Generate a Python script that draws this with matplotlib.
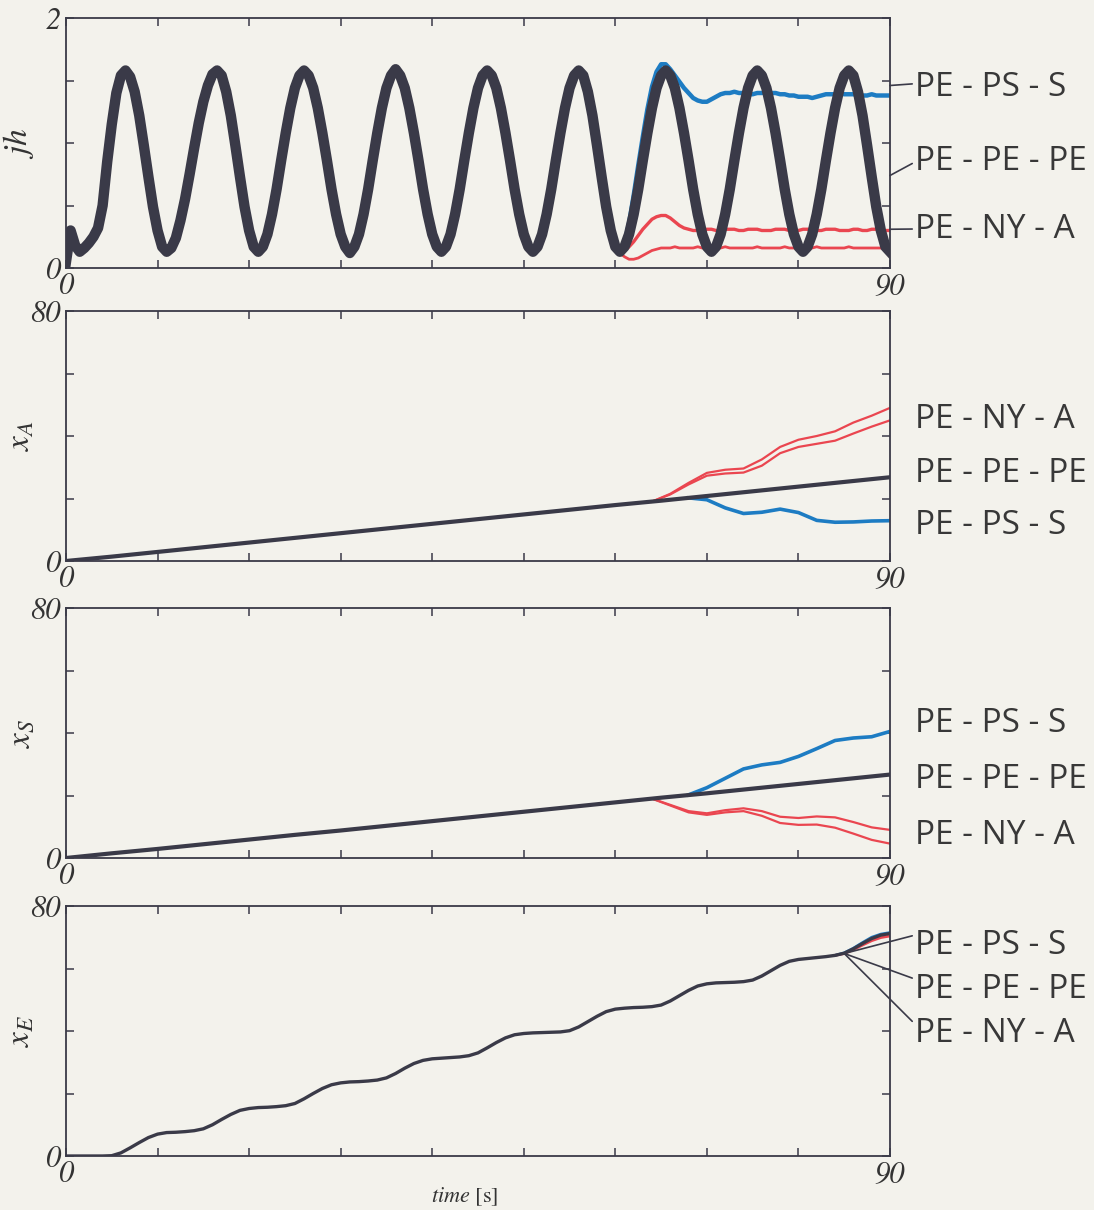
import numpy as np
import matplotlib.pyplot as plt

plt.rcParams['mathtext.fontset'] = 'stix'
plt.rcParams['font.family'] = 'STIXGeneral'

PAPER = '#f3f2ec'
INK = '#3a3a48'
BLUE = '#1d7cc3'
RED = '#ea4650'
TEXT = '#383838'

labels = ['PE - PS - S', 'PE - PE - PE', 'PE - NY - A']

# ---- panel 1: jh, read every 0.5 s ----
t_jh = np.arange(0, 90.5, 0.5)
jh_pe = [
    0.05, 0.30, 0.18, 0.13, 0.16, 0.20, 0.25, 0.32, 0.50, 0.85,
    1.15, 1.40, 1.54, 1.58, 1.53, 1.41, 1.22, 0.98, 0.73, 0.49,
    0.30, 0.17, 0.13, 0.16, 0.24, 0.38, 0.55, 0.75, 0.96, 1.16,
    1.33, 1.46, 1.55, 1.58, 1.54, 1.41, 1.22, 0.98, 0.73, 0.49,
    0.30, 0.17, 0.13, 0.17, 0.27, 0.43, 0.63, 0.86, 1.08, 1.28,
    1.44, 1.54, 1.58, 1.54, 1.44, 1.28, 1.08, 0.86, 0.63, 0.43,
    0.27, 0.17, 0.12, 0.17, 0.27, 0.43, 0.63, 0.86, 1.08, 1.28,
    1.44, 1.54, 1.59, 1.54, 1.44, 1.28, 1.08, 0.86, 0.63, 0.43,
    0.27, 0.17, 0.13, 0.17, 0.27, 0.43, 0.63, 0.86, 1.08, 1.28,
    1.44, 1.54, 1.58, 1.54, 1.44, 1.28, 1.08, 0.86, 0.63, 0.43,
    0.27, 0.17, 0.13, 0.17, 0.27, 0.43, 0.63, 0.86, 1.08, 1.28,
    1.44, 1.54, 1.58, 1.54, 1.41, 1.22, 0.98, 0.73, 0.49, 0.30,
    0.17, 0.13, 0.17, 0.27, 0.43, 0.63, 0.86, 1.08, 1.28, 1.44,
    1.54, 1.58, 1.54, 1.44, 1.28, 1.08, 0.86, 0.63, 0.43, 0.27,
    0.17, 0.13, 0.17, 0.27, 0.43, 0.63, 0.86, 1.08, 1.28, 1.44,
    1.54, 1.58, 1.54, 1.44, 1.28, 1.08, 0.86, 0.63, 0.43, 0.27,
    0.17, 0.13, 0.17, 0.27, 0.43, 0.63, 0.86, 1.08, 1.28, 1.44,
    1.54, 1.58, 1.54, 1.41, 1.22, 0.98, 0.73, 0.49, 0.30, 0.17,
    0.13,
]

t_jh_late = np.arange(60, 90.5, 0.5)
jh_ps = [
    0.17, 0.13, 0.20, 0.36, 0.58, 0.82, 1.05, 1.27, 1.45, 1.57,
    1.63, 1.63, 1.59, 1.54, 1.49, 1.44, 1.40, 1.36, 1.34, 1.33,
    1.33, 1.35, 1.37, 1.39, 1.40, 1.40, 1.41, 1.40, 1.40, 1.39,
    1.39, 1.40, 1.40, 1.41, 1.40, 1.40, 1.39, 1.39, 1.38, 1.38,
    1.37, 1.37, 1.37, 1.36, 1.37, 1.38, 1.39, 1.39, 1.39, 1.40,
    1.39, 1.39, 1.39, 1.38, 1.38, 1.38, 1.39, 1.38, 1.38, 1.38,
    1.38,
]
jh_ny_1 = [
    0.17, 0.13, 0.14, 0.17, 0.21, 0.26, 0.31, 0.35, 0.39, 0.41,
    0.42, 0.42, 0.40, 0.37, 0.34, 0.32, 0.31, 0.30, 0.30, 0.30,
    0.31, 0.31, 0.30, 0.30, 0.31, 0.31, 0.31, 0.30, 0.30, 0.31,
    0.31, 0.31, 0.30, 0.30, 0.30, 0.31, 0.31, 0.31, 0.30, 0.30,
    0.30, 0.31, 0.31, 0.31, 0.30, 0.30, 0.31, 0.31, 0.31, 0.30,
    0.30, 0.30, 0.31, 0.31, 0.30, 0.30, 0.31, 0.31, 0.30, 0.30,
    0.30,
]
jh_ny_2 = [
    0.17, 0.12, 0.09, 0.07, 0.07, 0.08, 0.10, 0.12, 0.14, 0.15,
    0.16, 0.16, 0.16, 0.17, 0.16, 0.16, 0.16, 0.16, 0.17, 0.16,
    0.16, 0.16, 0.16, 0.16, 0.17, 0.16, 0.16, 0.16, 0.16, 0.16,
    0.16, 0.17, 0.16, 0.16, 0.16, 0.16, 0.16, 0.17, 0.16, 0.16,
    0.16, 0.16, 0.16, 0.16, 0.17, 0.16, 0.16, 0.16, 0.16, 0.16,
    0.16, 0.17, 0.16, 0.16, 0.16, 0.16, 0.16, 0.16, 0.16, 0.16,
    0.16,
]

# ---- panels 2 and 3: xA, xS ----
t_lin = np.arange(0, 91, 5)
xa_pe = [0, 1.4, 2.9, 4.4, 5.9, 7.4, 8.9, 10.4, 11.9, 13.4,
         14.9, 16.4, 17.9, 19.3, 20.8, 22.3, 23.8, 25.3, 26.8]
xs_pe = [0, 1.5, 2.9, 4.4, 5.9, 7.4, 8.8, 10.3, 11.8, 13.3,
         14.8, 16.3, 17.8, 19.3, 20.7, 22.2, 23.7, 25.2, 26.7]

t_red = np.arange(64, 91, 2)
t_blue = np.arange(68, 91, 2)
xa_ny_1 = [19.0, 21.5, 25.0, 28.2, 29.2, 29.6, 32.5, 36.5, 38.8, 40.0, 41.5, 44.3, 46.5, 49.0]
xa_ny_2 = [19.0, 21.3, 24.5, 27.3, 28.0, 28.3, 30.5, 34.5, 36.5, 37.5, 38.5, 40.8, 43.0, 45.0]
xa_ps = [20.2, 19.6, 17.0, 15.2, 15.6, 16.6, 15.5, 13.0, 12.4, 12.5, 12.8, 12.9]

xs_ny_1 = [19.0, 17.0, 15.0, 14.3, 15.3, 15.9, 15.0, 13.2, 12.8, 13.3, 13.0, 11.5, 9.8, 9.0]
xs_ny_2 = [19.0, 16.8, 14.6, 13.8, 14.6, 15.0, 13.5, 11.2, 10.6, 10.7, 9.7, 7.8, 5.8, 4.6]
xs_ps = [20.2, 22.5, 25.5, 28.5, 29.8, 30.6, 32.5, 35.0, 37.6, 38.4, 38.8, 40.5]

# ---- panel 4: xE, read every 1 s ----
t_xe = np.arange(0, 91, 1)
xe_pe = [
    0, 0, 0, 0, 0, 0.1, 1.0, 2.6, 4.3, 5.9,
    7.0, 7.5, 7.6, 7.8, 8.1, 8.7, 10.0, 11.7, 13.3, 14.6,
    15.2, 15.5, 15.6, 15.8, 16.1, 16.8, 18.3, 20.0, 21.6, 22.8,
    23.4, 23.7, 23.8, 24.0, 24.3, 25.0, 26.4, 28.1, 29.6, 30.6,
    31.1, 31.3, 31.5, 31.7, 32.1, 33.0, 34.6, 36.3, 37.8, 38.8,
    39.2, 39.4, 39.5, 39.6, 39.7, 40.1, 41.3, 43.0, 44.7, 46.2,
    47.0, 47.3, 47.5, 47.6, 47.8, 48.3, 49.6, 51.3, 53.0, 54.4,
    55.1, 55.4, 55.5, 55.6, 55.8, 56.3, 57.6, 59.3, 61.0, 62.3,
    62.9, 63.2, 63.5, 63.8, 64.2, 64.9, 66.3, 68.0, 69.6, 70.7,
    71.2,
]
t_xe_end = np.arange(84, 91, 1)
xe_ps = [64.2, 65.0, 66.5, 68.3, 70.0, 71.0, 71.5]
xe_ny = [64.2, 64.8, 66.0, 67.5, 68.9, 69.9, 70.4]

W, H = 1094, 1210
fig = plt.figure(figsize=(W / 100, H / 100), dpi=100)
fig.patch.set_facecolor(PAPER)

left = 66 / W
width = (890 - 66) / W


def make_axes(top_px, bottom_px):
    ax = fig.add_axes([left, 1 - bottom_px / H, width, (bottom_px - top_px) / H])
    ax.set_facecolor(PAPER)
    for s in ax.spines.values():
        s.set_color(INK)
        s.set_linewidth(1.3)
    ax.tick_params(direction='in', top=True, right=True, length=6, width=1.1,
                   colors=INK, labelcolor='#333333')
    ax.tick_params(axis='x', pad=3)
    ax.tick_params(axis='y', pad=4)
    ax.set_xlim(0, 90)
    ax.set_xticks(np.arange(0, 91, 10))
    ax.set_xticklabels(['0'] + [''] * 8 + ['90'], fontstyle='italic', fontsize=22)
    return ax


def y_setup(ax, top, step, label):
    ax.set_ylim(0, top)
    ticks = np.arange(0, top + step / 2, step)
    ax.set_yticks(ticks)
    ax.set_yticklabels(['0'] + [''] * (len(ticks) - 2) + ['%g' % top],
                       fontstyle='italic', fontsize=22)
    ax.set_ylabel(label, fontsize=24, color='#333333')
    ax.yaxis.set_label_coords(-0.036, 0.5)


def side_text(ax, name, y_px, xy=None, relpos=(0, 0.5)):
    pos = (915 / W, 1 - y_px / H)
    if xy is None:
        fig.text(pos[0], pos[1], name, fontsize=24, family='Open Sans',
                 color=TEXT, va='center', ha='left')
    else:
        ax.annotate(name, xy=xy, xycoords='data', xytext=pos,
                    textcoords='figure fraction', fontsize=24, family='Open Sans',
                    color=TEXT, va='center', ha='left', annotation_clip=False,
                    arrowprops=dict(arrowstyle='-', color=INK, lw=1.2,
                                    shrinkA=0, shrinkB=0, relpos=relpos))


# panel 1
ax1 = make_axes(18, 268)
ax1.plot(t_jh_late, jh_ny_2, color=RED, lw=2.0)
ax1.plot(t_jh_late, jh_ny_1, color=RED, lw=2.4)
ax1.plot(t_jh_late, jh_ps, color=BLUE, lw=3.2)
ax1.plot(t_jh, jh_pe, color=INK, lw=7.5, solid_joinstyle='round')
y_setup(ax1, 2, 0.5, r'$jh$')
side_text(ax1, labels[0], 87, xy=(90, 1.46), relpos=(0, 0.6))
side_text(ax1, labels[1], 162, xy=(90, 0.74), relpos=(0, 0.5))
side_text(ax1, labels[2], 229, xy=(90, 0.31), relpos=(0, 0.5))

# panel 2
ax2 = make_axes(311, 561)
ax2.plot(t_red, xa_ny_1, color=RED, lw=1.6)
ax2.plot(t_red, xa_ny_2, color=RED, lw=1.6)
ax2.plot(t_blue, xa_ps, color=BLUE, lw=2.6)
ax2.plot(t_lin, xa_pe, color=INK, lw=3.0)
y_setup(ax2, 80, 20, r'$x_A$')
side_text(ax2, labels[2], 420)
side_text(ax2, labels[1], 474)
side_text(ax2, labels[0], 525)

# panel 3
ax3 = make_axes(608, 858)
ax3.plot(t_red, xs_ny_1, color=RED, lw=1.6)
ax3.plot(t_red, xs_ny_2, color=RED, lw=1.6)
ax3.plot(t_blue, xs_ps, color=BLUE, lw=2.6)
ax3.plot(t_lin, xs_pe, color=INK, lw=3.0)
y_setup(ax3, 80, 20, r'$x_S$')
side_text(ax3, labels[0], 724)
side_text(ax3, labels[1], 779)
side_text(ax3, labels[2], 835)

# panel 4
ax4 = make_axes(906, 1156)
ax4.plot(t_xe_end, xe_ny, color=RED, lw=2.0)
ax4.plot(t_xe_end, xe_ps, color=BLUE, lw=2.0)
ax4.plot(t_xe, xe_pe, color=INK, lw=2.4)
y_setup(ax4, 80, 20, r'$x_E$')
for name, ypx in zip(labels, [945, 989, 1034]):
    side_text(ax4, name, ypx, xy=(85, 64.8), relpos=(0, 0.8))

fig.text(0.425, 0.011, r'$\mathit{time}$ [s]', fontsize=16, color='#333333',
         ha='center', va='center')

fig.savefig('out.png', dpi=100, facecolor=PAPER)
